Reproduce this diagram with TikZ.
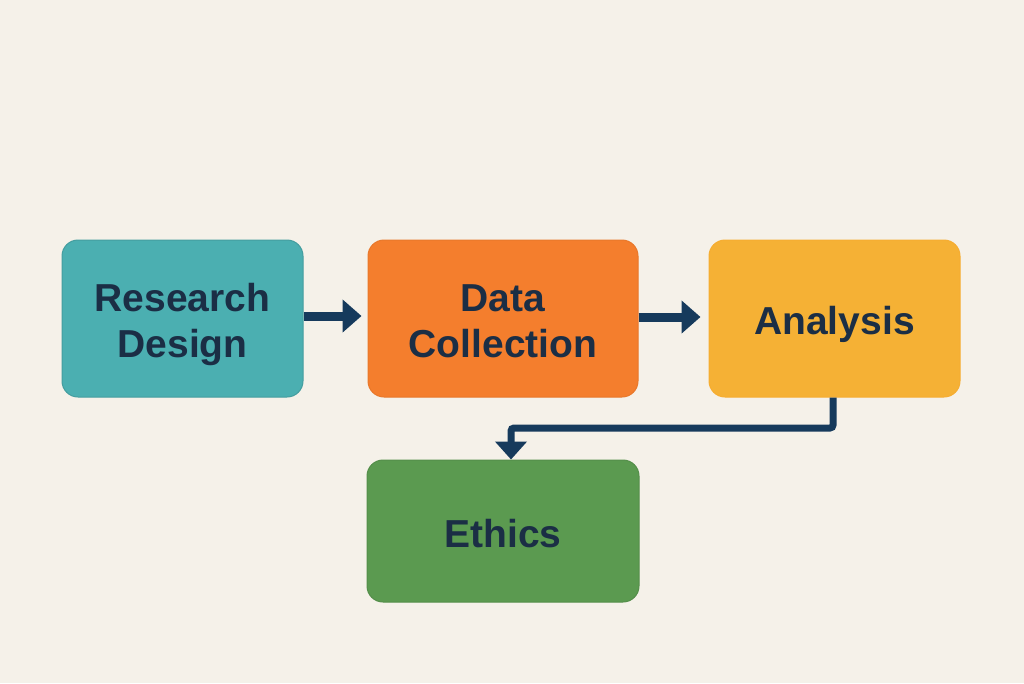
\documentclass[tikz,border=0pt]{standalone}
\usepackage{fontspec}
\setmainfont{Liberation Sans}
\usetikzlibrary{arrows.meta}
\definecolor{bg}{HTML}{F5F1E9}
\definecolor{teal}{HTML}{4BAFB1}
\definecolor{orng}{HTML}{F47E2D}
\definecolor{yell}{HTML}{F5B135}
\definecolor{grn}{HTML}{5B9A50}
\definecolor{txt}{HTML}{1B2E45}
\definecolor{arrc}{HTML}{163A5C}
\newcommand{\boxtext}[1]{\raisebox{-7pt}[\height][\depth]{\begin{tabular}{@{}c@{}}#1\end{tabular}}}
\tikzset{
  box/.style={rectangle, rounded corners=16pt, inner sep=0pt,
    text=txt, font=\fontsize{39}{46}\selectfont\bfseries, line width=1pt},
  flow/.style={draw=arrc, line width=9pt, -{Triangle[length=19pt,width=32pt]}},
  elbow/.style={draw=arrc, line width=7pt, -{Triangle[length=18pt,width=31pt]}}
}
\begin{document}
\begin{tikzpicture}[x=1pt,y=-1pt]
\fill[bg] (0,0) rectangle (1024,683);
\useasboundingbox (0,0) rectangle (1024,683);
\node[box, fill=teal, draw=teal!90!black, minimum width=241pt, minimum height=157pt] (rd) at (182.5,318.5) {\boxtext{Research\\Design}};
\node[box, fill=orng, draw=orng!95!black, minimum width=270pt, minimum height=157pt] (dc) at (503,318.5) {\boxtext{Data\\Collection}};
\node[box, fill=yell, draw=yell!92!orange, minimum width=251pt, minimum height=157pt] (an) at (834.5,318.5) {\boxtext{Analysis}};
\node[box, fill=grn, draw=grn!92!black, minimum width=272pt, minimum height=142pt] (et) at (503,531) {\boxtext{Ethics}};
\coordinate (y1) at (0,316);
\coordinate (y2) at (0,317);
\draw[flow, shorten >=6pt] (rd.east |- y1) -- (dc.west |- y1);
\draw[flow, shorten >=8pt] (dc.east |- y2) -- (an.west |- y2);
\coordinate (e1) at (833,428);
\coordinate (e2) at (511,428);
\draw[elbow, rounded corners=3pt] (an.south -| e1) -- (e1) -- (e2) -- (et.north -| e2);
\end{tikzpicture}
\end{document}
